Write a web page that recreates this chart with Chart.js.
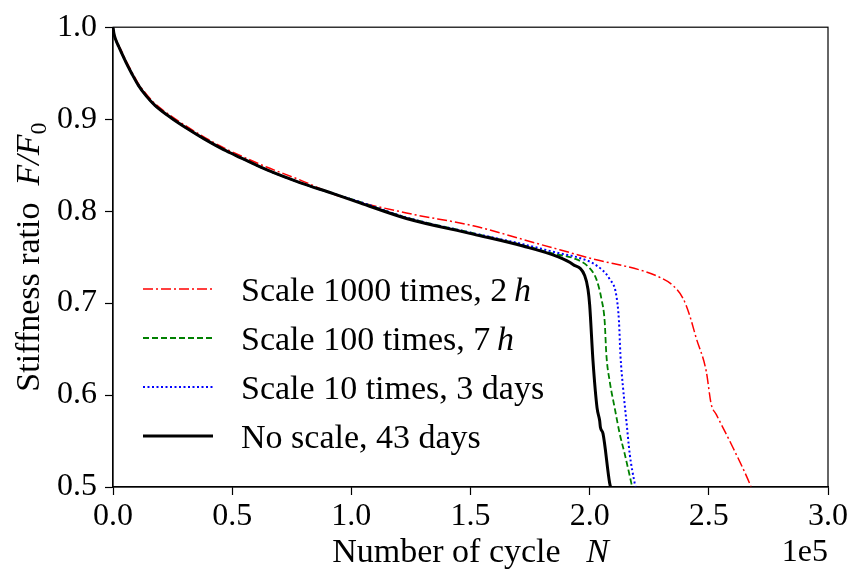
<!DOCTYPE html>
<html>
<head>
<meta charset="utf-8">
<script src="https://cdn.jsdelivr.net/npm/chart.js@4/dist/chart.umd.min.js"></script>
<style>
  body { margin: 0; background: #fff; }
</style>
</head>
<body>
<canvas id="chart" width="854" height="576"></canvas>
<script>
// data (x in 1e5 cycles, y = F/F0)
const seriesNames = ['Scale 1000 times, 2 h', 'Scale 100 times, 7 h', 'Scale 10 times, 3 days', 'No scale, 43 days'];

const redX = [0, .004, .012, .024, .036, .056, .078, .106, .14, .176, .246, .316, .386, .456, .512, .644, .784, .952, 1.231, 1.511, 1.79, 1.874, 2.014, 2.224, 2.294, 2.35, 2.392, 2.419, 2.447, 2.489, 2.51, 2.531, 2.601, 2.671, 2.68];
const redY = [1.0, .993, .987, .980, .974, .963, .952, .939, .927, .917, .903, .891, .880, .870, .863, .848, .834, .816, .798, .784, .764, .758, .748, .735, .728, .719, .705, .687, .662, .626, .590, .579, .543, .504, .498];

const greenX = [0, .004, .012, .024, .036, .056, .078, .106, .14, .176, .246, .316, .386, .456, .512, .644, .784, .924, 1.036, 1.231, 1.511, 1.72, 1.86, 1.93, 2.0, 2.028, 2.049, 2.063, 2.07, 2.084, 2.105, 2.126, 2.147, 2.175, 2.18];
const greenY = [1.0, .993, .986, .979, .972, .961, .950, .937, .925, .915, .901, .889, .878, .868, .861, .845, .831, .819, .810, .793, .776, .763, .753, .749, .738, .726, .705, .680, .644, .615, .586, .558, .536, .504, .498];

const blueX = [0, .004, .012, .024, .036, .056, .078, .106, .14, .176, .246, .316, .386, .456, .512, .644, .784, .924, 1.036, 1.231, 1.511, 1.72, 1.86, 1.958, 2.028, 2.084, 2.112, 2.123, 2.129, 2.14, 2.154, 2.168, 2.189, 2.194];
const blueY = [1.0, .993, .986, .979, .972, .961, .950, .937, .925, .915, .901, .889, .878, .868, .861, .845, .831, .819, .810, .793, .776, .764, .755, .749, .741, .726, .708, .680, .644, .608, .572, .536, .504, .498];

const blackX = [0, .004, .012, .024, .036, .056, .078, .106, .14, .176, .246, .316, .386, .456, .512, .644, .784, .924, 1.036, 1.231, 1.511, 1.72, 1.86, 1.93, 1.979, 1.993, 2.0, 2.014, 2.031, 2.042, 2.045, 2.056, 2.084, 2.09];
const blackY = [1.0, .993, .986, .979, .972, .961, .950, .937, .925, .915, .901, .889, .878, .868, .861, .845, .831, .819, .809, .792, .775, .762, .751, .742, .730, .715, .698, .637, .586, .572, .565, .558, .504, .498];

const xTicks = [0, 0.5, 1.0, 1.5, 2.0, 2.5, 3.0];
const yTicks = [0.5, 0.6, 0.7, 0.8, 0.9, 1.0];

const FONT = '"Liberation Serif", "Times New Roman", serif';

function pts(xs, ys) {
  return xs.map((x, i) => ({ x: x * 1e5, y: ys[i] }));
}

const styles = [
  { color: '#ff0000', width: 1.5, dash: [10, 3, 2, 3] },
  { color: '#008000', width: 1.8, dash: [6, 3] },
  { color: '#0000ff', width: 2, dash: [2, 2.5] },
  { color: '#000000', width: 3, dash: [] },
];
const allX = [redX, greenX, blueX, blackX];
const allY = [redY, greenY, blueY, blackY];

const datasets = seriesNames.map((name, i) => ({
  label: name,
  data: pts(allX[i], allY[i]),
  borderColor: styles[i].color,
  borderWidth: styles[i].width,
  borderDash: styles[i].dash,
  pointRadius: 0,
  fill: false,
  cubicInterpolationMode: 'monotone',
}));
// black underneath, red on top
datasets.reverse();

// draw text pieces, some italic / subscript
function drawRich(ctx, parts, x, y, size, align) {
  let total = 0;
  parts.forEach(p => {
    ctx.font = (p.it ? 'italic ' : '') + Math.round(p.sub ? size * 0.7 : size) + 'px ' + FONT;
    p.w = ctx.measureText(p.t).width;
    total += p.w;
  });
  let cx = align === 'center' ? x - total / 2 : align === 'right' ? x - total : x;
  ctx.textAlign = 'left';
  ctx.textBaseline = 'middle';
  parts.forEach(p => {
    ctx.font = (p.it ? 'italic ' : '') + Math.round(p.sub ? size * 0.7 : size) + 'px ' + FONT;
    ctx.fillText(p.t, cx, y + (p.sub ? size * 0.28 : 0));
    cx += p.w;
  });
}

function labelParts(name) {
  if (name.endsWith(' h')) {
    return [{ t: name.slice(0, -2) + '\u2009' }, { t: 'h', it: true }];
  }
  return [{ t: name }];
}

const decor = {
  id: 'decor',
  afterDraw(chart) {
    const ctx = chart.ctx;
    const a = chart.chartArea;
    ctx.save();
    ctx.strokeStyle = '#000';
    ctx.lineWidth = 1.2;
    ctx.strokeRect(a.left, a.top, a.right - a.left, a.bottom - a.top);

    ctx.fillStyle = '#000';
    // x title
    drawRich(ctx, [{ t: 'Number of cycle   ' }, { t: 'N', it: true }], (a.left + a.right) / 2, 553, 34, 'center');
    // offset text
    drawRich(ctx, [{ t: '1e5' }], a.right, 553, 32, 'right');
    // y title
    ctx.save();
    ctx.translate(30, (a.top + a.bottom) / 2);
    ctx.rotate(-Math.PI / 2);
    drawRich(ctx, [{ t: 'Stiffness ratio  ' }, { t: 'F/F', it: true }, { t: '0', sub: true }], 0, 0, 34, 'center');
    ctx.restore();

    // legend inside the plot, lower left
    seriesNames.forEach((name, i) => {
      const y = 289 + i * 49;
      ctx.beginPath();
      ctx.strokeStyle = styles[i].color;
      ctx.lineWidth = styles[i].width;
      ctx.setLineDash(styles[i].dash);
      ctx.moveTo(143, y);
      ctx.lineTo(213, y);
      ctx.stroke();
      ctx.setLineDash([]);
      ctx.fillStyle = '#000';
      drawRich(ctx, labelParts(name), 241, y + 3, 34, 'left');
    });
    ctx.restore();
  }
};

const tickFont = { family: FONT, size: 32 };

new Chart(document.getElementById('chart'), {
  type: 'line',
  data: { datasets: datasets },
  options: {
    responsive: false,
    animation: false,
    layout: { padding: { top: 22, right: 26, left: 0, bottom: 0 } },
    plugins: { legend: { display: false }, tooltip: { enabled: false } },
    scales: {
      x: {
        type: 'linear',
        min: 0,
        max: 300000,
        afterBuildTicks: s => { s.ticks = xTicks.map(v => ({ value: v * 1e5 })); },
        ticks: {
          callback: v => (v / 1e5).toFixed(1),
          font: tickFont,
          color: '#000',
          padding: 2,
          maxRotation: 0,
        },
        grid: { drawOnChartArea: false, color: '#000', tickLength: 8, tickWidth: 1.2 },
        border: { color: '#000', width: 1.2 },
        afterFit: s => { s.height = 89; },
      },
      y: {
        min: 0.5,
        max: 1.0,
        afterBuildTicks: s => { s.ticks = yTicks.map(v => ({ value: v })); },
        ticks: {
          callback: v => v.toFixed(1),
          font: tickFont,
          color: '#000',
          padding: 8,
        },
        grid: { drawOnChartArea: false, color: '#000', tickLength: 8, tickWidth: 1.2 },
        border: { color: '#000', width: 1.2 },
        afterFit: s => { s.width = 113; },
      },
    },
  },
  plugins: [decor],
});
</script>
</body>
</html>
